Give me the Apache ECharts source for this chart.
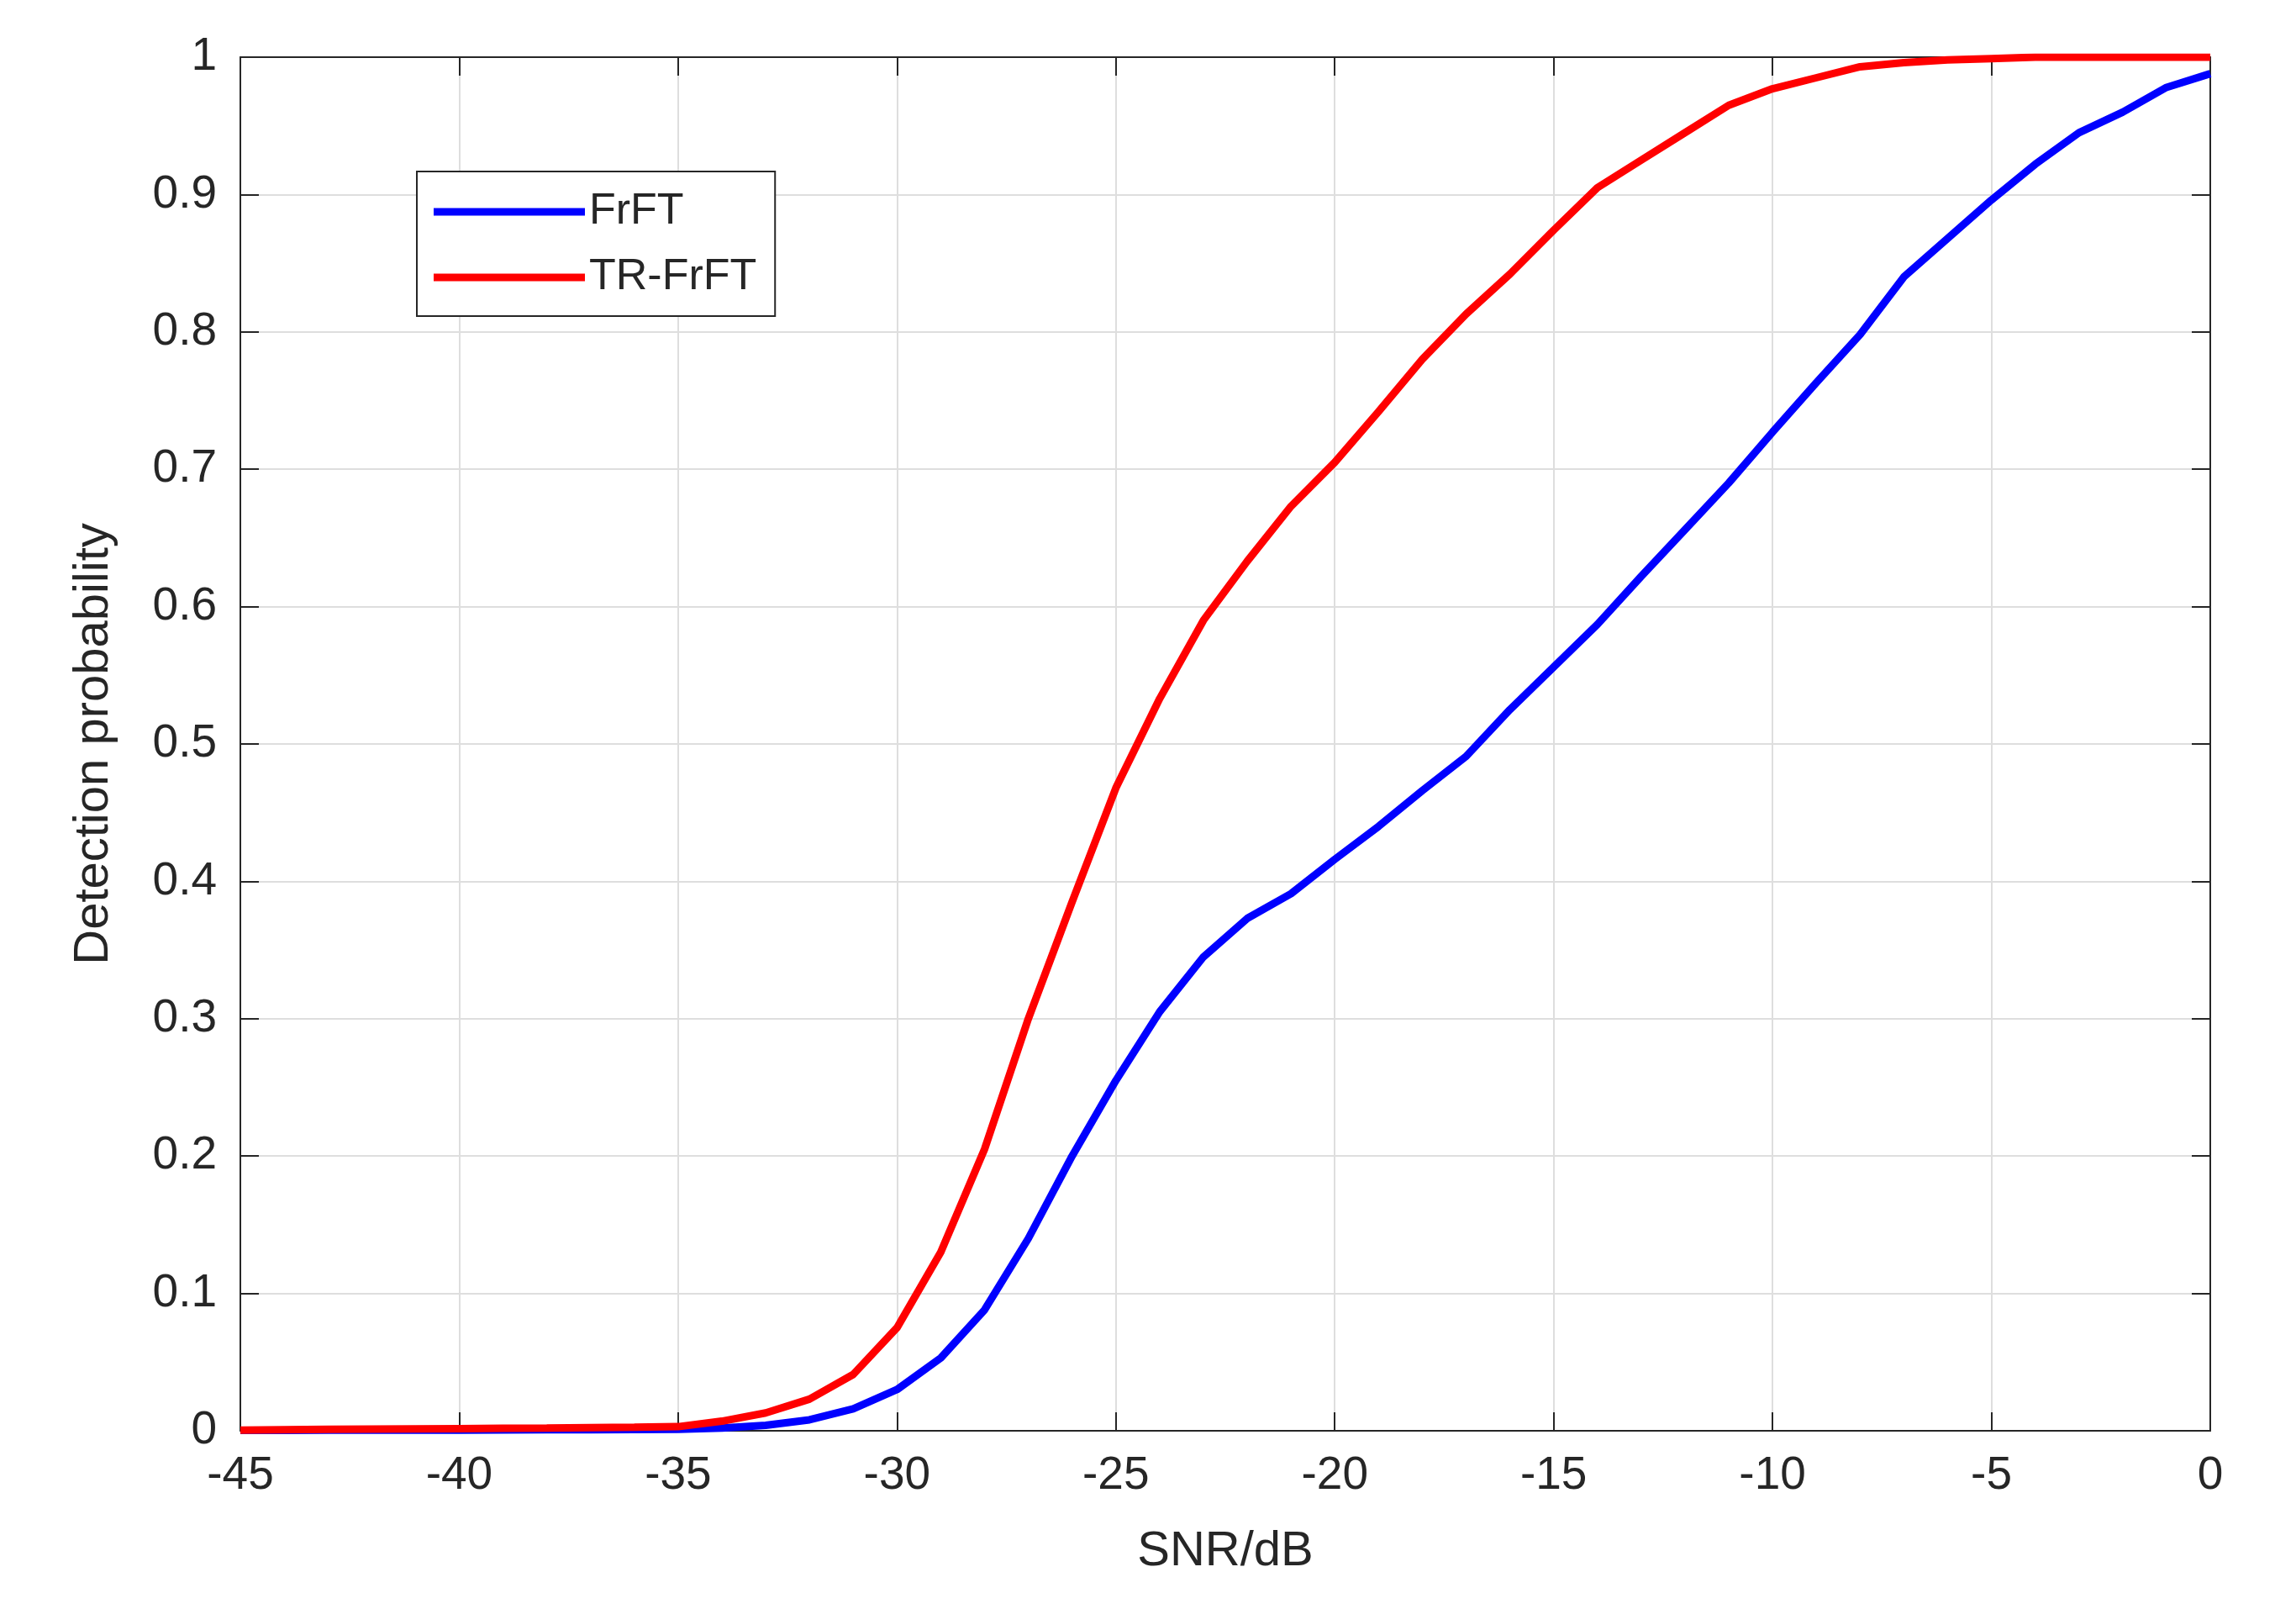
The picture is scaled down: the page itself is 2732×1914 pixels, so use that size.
<!DOCTYPE html>
<html><head><meta charset="utf-8">
<script src="https://cdn.jsdelivr.net/npm/echarts@6/dist/echarts.min.js"></script>
<style>html,body{margin:0;padding:0;background:#fff}#c{width:2732px;height:1914px}</style>
</head><body><div id="c"></div>
<script>
const snr = [];
for (let s = -45; s <= 0; s++) snr.push(s);
const frft = [0.0003,0.0003,0.0004,0.0004,0.0005,0.0005,0.0006,0.0007,0.0008,0.0009,0.001,0.002,0.004,0.008,0.016,0.03,0.053,0.088,0.14,0.2,0.255,0.305,0.345,0.373,0.391,0.416,0.44,0.466,0.491,0.525,0.556,0.587,0.622,0.656,0.69,0.727,0.763,0.798,0.84,0.868,0.896,0.922,0.945,0.96,0.978,0.988];
const trfrft = [0.0005,0.0008,0.001,0.0012,0.0014,0.0016,0.0018,0.002,0.0023,0.0026,0.003,0.007,0.013,0.023,0.041,0.075,0.13,0.205,0.3,0.385,0.468,0.533,0.59,0.633,0.673,0.705,0.742,0.78,0.813,0.842,0.874,0.905,0.925,0.945,0.965,0.977,0.985,0.993,0.996,0.998,0.999,1,1,1,1,1];
const font = 'Liberation Sans, Arial, sans-serif';
const ch = echarts.init(document.getElementById('c'));
const axisCommon = {
  axisLine:{show:true,onZero:false,lineStyle:{color:'#262626',width:2}},
  axisTick:{show:true,inside:true,length:22,lineStyle:{color:'#262626',width:2}},
};
ch.setOption({
  animation:false,
  backgroundColor:'#fff',
  grid:{left:286,right:102,top:68,bottom:212},
  legend:{
    orient:'vertical',left:496,top:204,
    data:['FrFT','TR-FrFT'],
    itemWidth:180,itemHeight:9,itemGap:26,
    padding:[22,22,20,20],
    borderColor:'#262626',borderWidth:2,backgroundColor:'#fff',
    textStyle:{fontSize:52,color:'#262626',fontFamily:font},
    icon:'rect'
  },
  xAxis:[
    Object.assign({type:'value',min:-45,max:0,interval:5,position:'bottom',
      name:'SNR/dB',nameLocation:'middle',nameGap:115,
      nameTextStyle:{fontSize:58,color:'#262626',fontFamily:font},
      axisLabel:{fontSize:55,color:'#262626',fontFamily:font,margin:26},
      splitLine:{show:true,lineStyle:{color:'#dedede',width:2}}},axisCommon),
    Object.assign({type:'value',min:-45,max:0,interval:5,position:'top',
      axisLabel:{show:false},splitLine:{show:false}},axisCommon)
  ],
  yAxis:[
    Object.assign({type:'value',min:0,max:1,interval:0.1,position:'left',
      name:'Detection probability',nameLocation:'middle',nameGap:145,
      nameTextStyle:{fontSize:58,color:'#262626',fontFamily:font},
      axisLabel:{fontSize:55,color:'#262626',fontFamily:font,margin:28,
        formatter:v=>(Math.round(v*10)/10).toString()},
      splitLine:{show:true,lineStyle:{color:'#dedede',width:2}}},axisCommon),
    Object.assign({type:'value',min:0,max:1,interval:0.1,position:'right',
      axisLabel:{show:false},splitLine:{show:false}},axisCommon)
  ],
  series:[
    {name:'FrFT',type:'line',data:snr.map((s,i)=>[s,frft[i]]),showSymbol:false,
      lineStyle:{color:'#0000ff',width:9},itemStyle:{color:'#0000ff'}},
    {name:'TR-FrFT',type:'line',data:snr.map((s,i)=>[s,trfrft[i]]),showSymbol:false,
      lineStyle:{color:'#ff0000',width:9},itemStyle:{color:'#ff0000'}}
  ]
});
</script></body></html>
